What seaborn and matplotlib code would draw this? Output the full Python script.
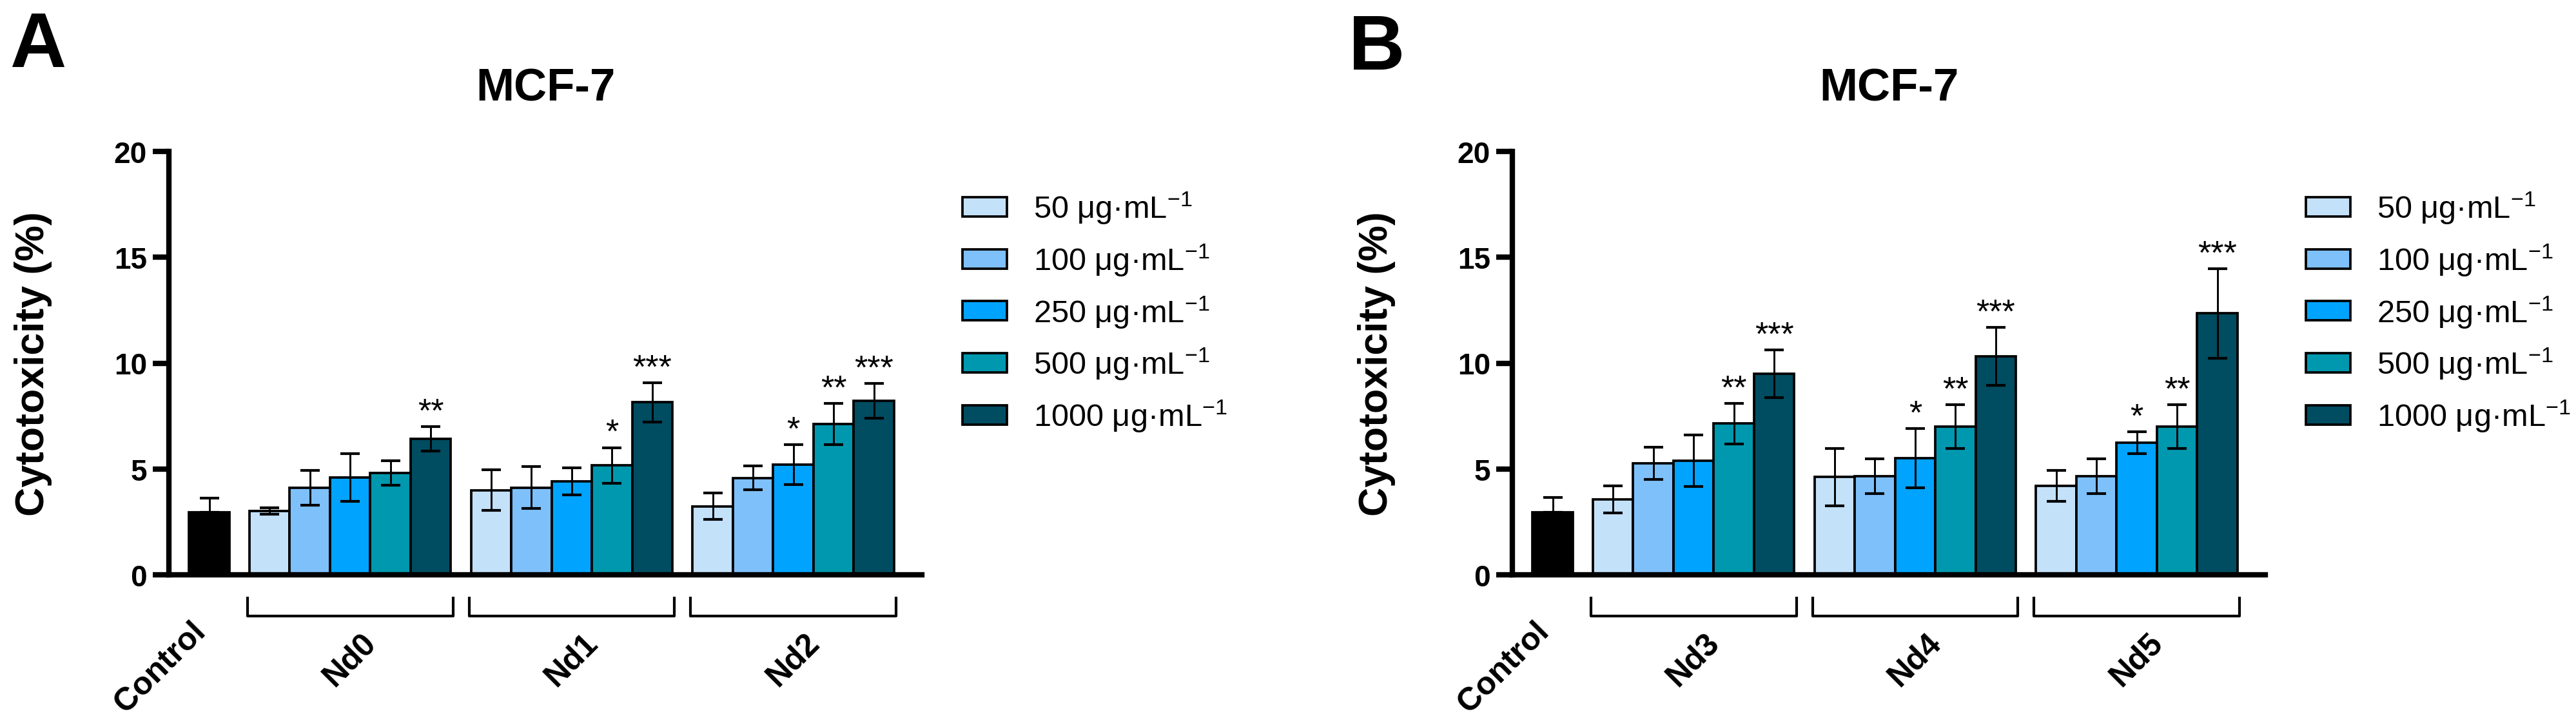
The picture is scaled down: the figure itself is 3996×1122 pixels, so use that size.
import matplotlib
matplotlib.use("Agg")
import matplotlib.pyplot as plt
from matplotlib.patches import Patch
import seaborn as sns
import pandas as pd

sns.set_style("ticks")
plt.rcParams["font.family"] = ["Liberation Sans", "DejaVu Sans"]
plt.rcParams["mathtext.fontset"] = "custom"
plt.rcParams["mathtext.rm"] = "Liberation Sans"
plt.rcParams["mathtext.it"] = "Liberation Sans:italic"
plt.rcParams["mathtext.bf"] = "Liberation Sans:bold"
for key in ["axes.edgecolor", "text.color", "axes.labelcolor",
            "xtick.color", "ytick.color"]:
    plt.rcParams[key] = "black"

# region data
doses = ["50", "100", "250", "500", "1000"]
dose_colors = ["#C4E1FA", "#7EC0FA", "#00A4FF", "#0098AF", "#004C60"]

# panel A
control_a = 2.95
control_a_sd = 0.68
groups_a = ["Nd0", "Nd1", "Nd2"]
nd0_mean = [3.02, 4.11, 4.59, 4.81, 6.42]
nd0_sd = [0.15, 0.82, 1.12, 0.58, 0.58]
nd1_mean = [4.00, 4.12, 4.41, 5.16, 8.15]
nd1_sd = [0.95, 0.98, 0.64, 0.85, 0.93]
nd2_mean = [3.24, 4.58, 5.20, 7.12, 8.23]
nd2_sd = [0.63, 0.57, 0.95, 0.97, 0.82]
nd0_sig = ["", "", "", "", "**"]
nd1_sig = ["", "", "", "*", "***"]
nd2_sig = ["", "", "*", "**", "***"]

# panel B
control_b = 2.94
control_b_sd = 0.70
groups_b = ["Nd3", "Nd4", "Nd5"]
nd3_mean = [3.57, 5.28, 5.39, 7.14, 9.50]
nd3_sd = [0.64, 0.76, 1.22, 0.95, 1.13]
nd4_mean = [4.62, 4.66, 5.51, 7.00, 10.32]
nd4_sd = [1.36, 0.82, 1.40, 1.04, 1.36]
nd5_mean = [4.20, 4.66, 6.24, 7.00, 12.35]
nd5_sd = [0.74, 0.82, 0.51, 1.04, 2.12]
nd3_sig = ["", "", "", "**", "***"]
nd4_sig = ["", "", "*", "**", "***"]
nd5_sig = ["", "", "*", "**", "***"]
# endregion

fig = plt.figure(figsize=(13.32, 3.7433), dpi=300)


def draw_panel(ax, control, control_sd, groups, means, sds, sigs):
    # bar positions: control at 0, groups of 5 touching bars with half-bar gaps
    rows = [{"pos": 0.0, "value": control, "sd": control_sd, "dose": "Control", "sig": ""}]
    centers = []
    for g, name in enumerate(groups):
        start = 1.5 + g * 5.5
        centers.append(start + 2)
        for i, d in enumerate(doses):
            rows.append({"pos": start + i, "value": means[g][i], "sd": sds[g][i],
                         "dose": d, "sig": sigs[g][i]})
    df = pd.DataFrame(rows)

    sns.barplot(data=df, x="pos", y="value", hue="dose",
                hue_order=["Control"] + doses, palette=["black"] + dose_colors,
                native_scale=True, dodge=False, width=1.0, orient="x",
                errorbar=None, saturation=1, edgecolor="black", linewidth=0.9,
                legend=False, ax=ax, zorder=2)

    ctrl = df[df["dose"] == "Control"]
    trt = df[df["dose"] != "Control"]
    ax.errorbar(ctrl["pos"], ctrl["value"], yerr=[[0], ctrl["sd"].tolist()],
                fmt="none", ecolor="black", elinewidth=0.7, capsize=3.6,
                capthick=1.0, zorder=3)
    ax.errorbar(trt["pos"], trt["value"], yerr=trt["sd"], fmt="none",
                ecolor="black", elinewidth=0.7, capsize=3.6, capthick=1.0,
                zorder=3)

    for _, r in trt[trt["sig"] != ""].iterrows():
        ax.annotate(r["sig"], (r["pos"], r["value"] + r["sd"]),
                    xytext=(0, 2), textcoords="offset points",
                    ha="center", va="baseline", fontsize=12.5)

    ax.set_xlim(-1.0, 17.69)
    ax.set_ylim(0, 20)
    ax.set_yticks([0, 5, 10, 15, 20])
    ax.set_xticks([])
    sns.despine(ax=ax)
    for s in ["left", "bottom"]:
        ax.spines[s].set_linewidth(2)
    ax.tick_params(axis="y", width=2, length=6, pad=2.2, labelsize=11)
    for lab in ax.get_yticklabels():
        lab.set_fontweight("bold")
    ax.set_xlabel("")
    ax.set_ylabel("Cytotoxicity (%)", fontsize=15, fontweight="bold", labelpad=23)
    ax.set_title("MCF-7", fontsize=17, fontweight="bold", pad=19)

    trans = ax.get_xaxis_transform()
    ax.text(0.06, -0.097, "Control", transform=trans, rotation=45, ha="right",
            va="top", fontsize=12, fontweight="bold")
    for c, name in zip(centers, groups):
        left, right = c - 2.55, c + 2.55
        ax.plot([left, left, right, right], [-0.052, -0.097, -0.097, -0.052],
                transform=trans, color="black", lw=1.0, clip_on=False,
                solid_capstyle="butt")
        ax.text(c, -0.20, name, transform=trans, rotation=45, ha="center",
                va="center", fontsize=12, fontweight="bold")

    handles = [Patch(facecolor=col, edgecolor="black", linewidth=0.9)
               for col in dose_colors]
    labels = [d + " μg·mL$^{-1}$" for d in doses]
    return handles, labels


ax_a = fig.add_axes([0.06557, 0.20481, 0.29229, 0.58504])
h, l = draw_panel(ax_a, control_a, control_a_sd, groups_a,
                  [nd0_mean, nd1_mean, nd2_mean], [nd0_sd, nd1_sd, nd2_sd],
                  [nd0_sig, nd1_sig, nd2_sig])
fig.legend(h, l, loc="upper left", bbox_to_anchor=(1493 / 3996, 1 - 296 / 1123),
           frameon=False, fontsize=11.7, handlelength=1.42, handleheight=0.57,
           handletextpad=0.84, labelspacing=0.52, borderpad=0, borderaxespad=0)

ax_b = fig.add_axes([0.58709, 0.20481, 0.29229, 0.58504])
h, l = draw_panel(ax_b, control_b, control_b_sd, groups_b,
                  [nd3_mean, nd4_mean, nd5_mean], [nd3_sd, nd4_sd, nd5_sd],
                  [nd3_sig, nd4_sig, nd5_sig])
fig.legend(h, l, loc="upper left", bbox_to_anchor=(3577 / 3996, 1 - 296 / 1123),
           frameon=False, fontsize=11.7, handlelength=1.42, handleheight=0.57,
           handletextpad=0.84, labelspacing=0.52, borderpad=0, borderaxespad=0)

fig.text(0.004, 0.986, "A", fontsize=29, fontweight="bold", va="top", ha="left")
fig.text(2092 / 3996, 0.982, "B", fontsize=29, fontweight="bold", va="top", ha="left")

fig.savefig("out.png", dpi=300, facecolor="white")
